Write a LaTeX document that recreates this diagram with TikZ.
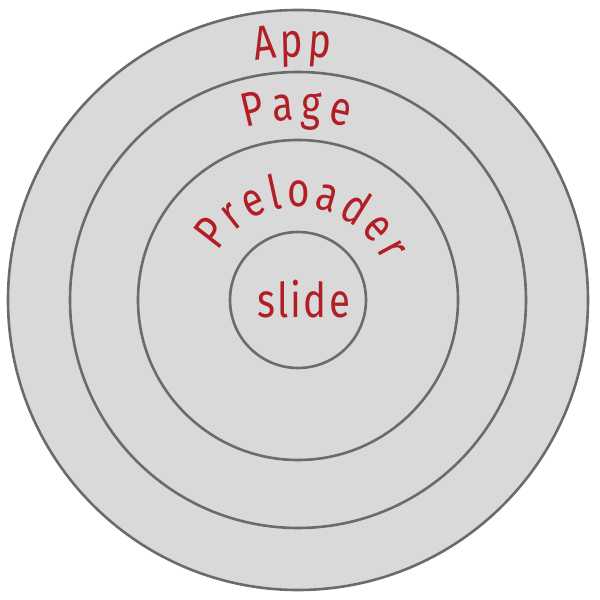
\documentclass[tikz,border=0pt]{standalone}
\usepackage{fontspec}
\usetikzlibrary{decorations.text}
\newfontfamily\labfont{Fira Sans}[FakeStretch=0.8]
\definecolor{ringfill}{RGB}{217,217,217}
\definecolor{ringline}{RGB}{107,107,107}
\definecolor{labred}{RGB}{178,30,38}
\begin{document}
\begin{tikzpicture}[x=1pt,y=1pt,
  ring/.style={circle, draw=ringline, line width=2.6pt, fill=ringfill, inner sep=0pt},
  arclabel/.style={decorate, decoration={text along path, text align=fit to path,
      text color=labred, text={|\labfont\fontsize{48}{48}\selectfont|#1}}}]
  \useasboundingbox (0,0) rectangle (600,600);
  \coordinate (c) at (298,300);
  % nested rings
  \node[ring, minimum size=580pt] (app) at (c) {};
  \node[ring, minimum size=456pt] (page) at (c) {};
  \node[ring, minimum size=320pt] (preloader) at (c) {};
  \node[ring, minimum size=136pt] (slide) at (c) {};
  % labels following the rings
  \path[arclabel=App] ([shift={(100:243)}]c) arc[start angle=100, end angle=82.5, radius=243];
  \path[arclabel=Page] ([shift={(107:180)}]c) arc[start angle=107, end angle=74, radius=180];
  \path[arclabel=Preloader] ([shift={(149:93)}]c) arc[start angle=149, end angle=24, radius=93];
  \path[arclabel=slide] (257,282) -- (350,282);
\end{tikzpicture}
\end{document}
